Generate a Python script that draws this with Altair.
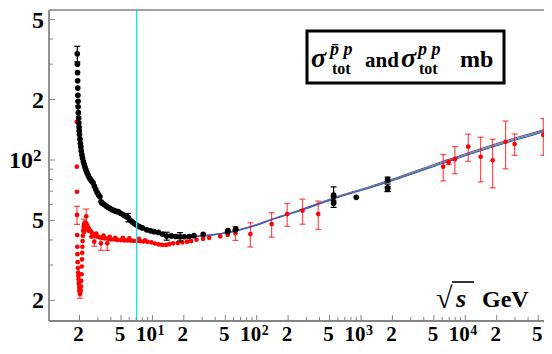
import altair as alt
import pandas as pd

# ---------------- data ----------------
# antiproton-proton total cross section (black)
pbar_x = [1.905, 1.91, 1.915, 1.92, 1.925, 1.93, 1.935, 1.94, 1.95, 1.96, 1.97, 1.98, 1.99, 2.0,
          2.02, 2.04, 2.06, 2.08, 2.11, 2.14, 2.18, 2.22, 2.26, 2.31, 2.36, 2.42, 2.48, 2.55,
          2.62, 2.70, 2.78, 2.86, 2.95, 3.05, 3.14, 3.22, 3.3, 3.45, 3.6, 3.75, 3.91, 4.1, 4.3,
          4.5, 4.7, 4.95, 5.2, 5.45, 5.66, 5.86, 6.1, 6.4, 6.75, 7.06, 7.5, 8.0, 8.8, 9.6, 10.4,
          11.4, 12.5, 13.7, 15.2, 16.8, 18.4, 20.2, 22.5, 25, 30.7, 52.6, 53, 62.3, 63,
          546, 546, 546, 546, 900, 1800, 1800, 1800]
pbar_y = [338, 300, 272, 248, 228, 210, 196, 184, 172, 162, 153, 146, 140, 134,
          127, 121, 116, 111, 106, 102, 98, 95, 92, 89, 86.5, 84, 81.5, 80,
          78.5, 77, 74, 71.5, 69, 67, 65.6, 62, 61, 60, 59, 58.2, 57.4, 56.6, 56,
          55.5, 55.3, 54.3, 53.5, 52.8, 52.2, 51.7, 50.3, 49.2, 48.2, 47.5, 46.6, 45.9, 44.9, 44.4, 44,
          43.6, 42.8, 41.8, 41.9, 41.6, 41.5, 41.5, 41.6, 42, 42.7, 44.0, 44.6, 44.8, 45.4,
          65.8, 66.9, 62.1, 60.9, 65.2, 80.0, 72.8, 71.7]
pbar_err = [30, 0, 0, 0, 0, 0, 0, 0, 0, 0, 0, 0, 0, 0,
            0, 0, 0, 0, 0, 0, 0, 0, 0, 0, 0, 0, 0, 0,
            0, 0, 0, 0, 0, 0, 0, 0, 0, 0, 0, 0, 0, 0, 0,
            0, 0, 0, 0, 0, 0, 2.5, 0, 0, 0, 0, 0, 0, 0, 0, 0,
            0, 0, 1.9, 0, 0, 2.0, 0, 0, 0, 0, 0, 0, 0, 0,
            7.7, 0, 0, 0, 0, 2.2, 3.1, 2.0]

# proton-proton total cross section (red)
pp_x = [1.88, 1.885, 1.89, 1.893, 1.9, 1.905, 1.91, 1.92, 1.93, 1.94, 1.95, 1.96, 1.97, 1.98,
        1.99, 2.0, 2.01, 2.02, 2.035, 2.05, 2.065, 2.08, 2.09, 2.10, 2.11, 2.12, 2.13, 2.14,
        2.155, 2.17, 2.19, 2.21, 2.24, 2.27, 2.3, 2.32, 2.34, 2.38, 2.43, 2.48, 2.55, 2.62,
        2.7, 2.77, 2.8, 2.9, 3.0, 3.1, 3.21, 3.3, 3.5, 3.69, 3.8, 4.0, 4.3, 4.6, 5.0, 5.4,
        5.8, 6.2, 6.6, 7.1, 7.6, 8.2, 9.0, 9.8, 10.6, 11.5, 12.4, 13.5, 14.5, 15.8, 17.5,
        19.4, 21.5, 23.5, 26.5, 30.6, 35, 44.7, 52.8, 62.5,
        2.45, 2.6, 2.9, 3.4, 3.9, 4.4, 5.2, 6.0, 7.4, 8.5, 2.22, 2.28,
        87, 139, 196, 275, 389,
        6140, 6920, 7940, 10670, 14030, 18280, 24340, 29700, 55900]
pp_y = [155, 92.6, 69.5, 53.3, 42.3, 37, 34, 31, 29, 27.5, 26.5, 25.5, 24.5, 24,
        23.2, 22.5, 22, 21.5, 21.8, 22.5, 23.5, 25, 27, 29.5, 32, 34.5, 37, 39.5,
        42, 44.5, 46.5, 47.8, 48.5, 48.8, 48.5, 52.5, 47.8, 47, 46, 45.2, 44.3, 43.5,
        42.8, 39.2, 42.3, 41.8, 41.5, 41.2, 38.5, 41, 40.7, 38.5, 40.5, 40.3, 40.2, 40, 39.9, 39.8,
        39.8, 39.7, 39.6, 39.5, 39.4, 39.3, 39.1, 38.9, 38.4, 38.0, 37.8, 37.8, 38.1, 38.5, 38.6,
        38.9, 39.2, 39.5, 40.1, 40.5, 41.0, 41.7, 42.4, 43.2,
        44.5, 41.5, 43.0, 42.0, 41.5, 41.0, 41.0, 40.7, 40.5, 39.8, 44.0, 46.0,
        42.8, 48.0, 53.8, 55.9, 53.8,
        92.6, 97.4, 101, 116.5, 103.8, 99.7, 123.3, 120.1, 133.2]
pp_err = [0, 0, 0, 5.5, 0, 0, 0, 0, 0, 0, 0, 0, 0, 0,
          0, 0, 0, 1.0, 0, 0, 0, 0, 0, 0, 0, 0, 0, 0,
          0, 0, 0, 3.0, 0, 0, 0, 4.5, 0, 0, 0, 0, 0, 0,
          0, 2.0, 0, 0, 0, 0, 3.0, 0, 0, 3.0, 0, 0, 0, 0, 0, 0,
          0, 0, 0, 0, 0, 0, 0, 0, 0, 0, 0, 0, 0, 0, 0,
          0, 0, 0, 0, 0, 0, 0, 0, 3.4,
          0, 0, 0, 0, 0, 0, 0, 0, 0, 0, 0, 0,
          5.9, 6.7, 7.0, 8.0, 8.7,
          13.9, 2.5, 15.6, 18, 26, 27, 33, 14.6, 27.7]

# fitted curves
curve_x = [15, 20, 30.7, 64, 100, 134, 279, 583, 1217, 2400, 6140, 11070, 23070, 48300, 67600]
curve_a = [41.4, 41.3, 41.9, 44.6, 47.8, 50.4, 57.2, 65.6, 73.8, 83.0, 98.6, 109.3, 123.6, 138.2, 145.6]
curve_b = [41.4, 41.3, 41.9, 44.5, 47.6, 50.2, 56.9, 65.2, 73.2, 82.2, 97.5, 108.0, 122.0, 136.5, 143.9]
curve_c = [41.4, 41.3, 41.9, 44.4, 47.4, 50.0, 56.6, 64.8, 72.6, 81.4, 96.4, 106.7, 120.4, 134.8, 142.2]
curve_names = ["a", "b", "c"]
curve_colors = ["#8040a8", "#40a050", "#4050d0"]

cyan_x = [7.06]

# axis ticks and labels
x_major = [2, 5, 10, 20, 50, 100, 200, 500, 1000, 2000, 5000, 10000, 20000, 50000]
x_minor = [3, 4, 6, 7, 8, 9, 30, 40, 60, 70, 80, 90, 300, 400, 600, 700, 800, 900,
           3000, 4000, 6000, 7000, 8000, 9000, 30000, 40000]
x_label_vals = [2, 5, 20, 50, 200, 500, 2000, 5000, 20000, 50000]
x_label_text = ["2", "5", "2", "5", "2", "5", "2", "5", "2", "5"]
x_decade_vals = [10, 100, 1000, 10000]
x_decade_exp = ["1", "2", "3", "4"]
y_major = [20, 50, 100, 200, 500]
y_minor = [30, 40, 60, 70, 80, 90, 300, 400]
y_label_vals = [20, 50, 200, 500]
y_label_text = ["2", "5", "2", "5"]
y_decade_vals = [100]
y_decade_exp = ["2"]

# ---------------- chart ----------------
W, H = 495, 311
GRAY = "#858585"
FONT = "Liberation Serif"

xscale = alt.Scale(type="log", domain=[1.02, 56830], nice=False)
yscale = alt.Scale(type="log", domain=[15.80, 558], nice=False)
XN = dict(scale=xscale, axis=None)
YN = dict(scale=yscale, axis=None)

rows = []
for name, ys in zip(curve_names, [curve_a, curve_b, curve_c]):
    for xv, yv in zip(curve_x, ys):
        rows.append({"curve": name, "x": xv, "y": yv})
curves_df = pd.DataFrame(rows)

curves = alt.Chart(curves_df).mark_line(strokeWidth=1.1, interpolate="monotone", clip=True).encode(
    x=alt.X("x:Q", **XN),
    y=alt.Y("y:Q", **YN),
    color=alt.Color("curve:N", scale=alt.Scale(domain=curve_names, range=curve_colors), legend=None),
    detail="curve:N",
)


def points_layers(xs, ys, errs, color, size, err_opacity):
    df = pd.DataFrame({"x": xs, "y": ys, "e": errs})
    edf = df[df["e"] > 0].copy()
    edf["lo"] = edf["y"] - edf["e"]
    edf["hi"] = edf["y"] + edf["e"]
    X = alt.X("x:Q", **XN)
    bars = alt.Chart(edf).mark_rule(color=color, strokeWidth=1.2, opacity=err_opacity).encode(
        x=X, y=alt.Y("lo:Q", **YN), y2="hi:Q")
    cap_lo = alt.Chart(edf).mark_tick(color=color, orient="horizontal", size=6, thickness=1.2,
                                      opacity=err_opacity).encode(x=X, y=alt.Y("lo:Q", **YN))
    cap_hi = alt.Chart(edf).mark_tick(color=color, orient="horizontal", size=6, thickness=1.2,
                                      opacity=err_opacity).encode(x=X, y=alt.Y("hi:Q", **YN))
    pts = alt.Chart(df).mark_circle(color=color, size=size, opacity=1).encode(
        x=X, y=alt.Y("y:Q", **YN))
    return [bars, cap_lo, cap_hi, pts]


red_layers = points_layers(pp_x, pp_y, pp_err, "#ff0000", 22, 0.7)
black_layers = points_layers(pbar_x, pbar_y, pbar_err, "#000000", 32, 1.0)

cyan = alt.Chart(pd.DataFrame({"v": cyan_x})).mark_rule(color="#22e0e0", strokeWidth=1.5).encode(
    x=alt.X("v:Q", **XN))

one = pd.DataFrame({"a": [0]})

# frame
left_line = alt.Chart(one).mark_rule(color=GRAY, strokeWidth=1.8).encode(
    x=alt.value(0), y=alt.value(0), y2=alt.value(H))
bottom_line = alt.Chart(one).mark_rule(color=GRAY, strokeWidth=1.8).encode(
    x=alt.value(0), x2=alt.value(W), y=alt.value(H))
top_line = alt.Chart(one).mark_rule(color=GRAY, strokeWidth=1.6).encode(
    x=alt.value(0), x2=alt.value(W), y=alt.value(0))

# inward ticks
xmaj = alt.Chart(pd.DataFrame({"t": x_major})).mark_rule(color=GRAY, strokeWidth=1).encode(
    x=alt.X("t:Q", **XN), y=alt.value(H), y2=alt.value(H - 6))
xmin = alt.Chart(pd.DataFrame({"t": x_minor})).mark_rule(color=GRAY, strokeWidth=1).encode(
    x=alt.X("t:Q", **XN), y=alt.value(H), y2=alt.value(H - 4))
ymaj = alt.Chart(pd.DataFrame({"t": y_major})).mark_rule(color=GRAY, strokeWidth=1).encode(
    y=alt.Y("t:Q", **YN), x=alt.value(0), x2=alt.value(6))
ymin = alt.Chart(pd.DataFrame({"t": y_minor})).mark_rule(color=GRAY, strokeWidth=1).encode(
    y=alt.Y("t:Q", **YN), x=alt.value(0), x2=alt.value(4))

# tick labels
LBL = dict(font=FONT, fontWeight="bold", color="black", baseline="alphabetic")
XB = 331   # x-label baseline (chart pixels)
xlab = alt.Chart(pd.DataFrame({"t": x_label_vals, "s": x_label_text})).mark_text(
    fontSize=21, align="center", dx=-1, **LBL).encode(
    x=alt.X("t:Q", **XN), y=alt.value(XB), text="s:N")
xdec = alt.Chart(pd.DataFrame({"t": x_decade_vals})).mark_text(
    fontSize=21, align="center", dx=-6, text="10", **LBL).encode(
    x=alt.X("t:Q", **XN), y=alt.value(XB))
xexp = alt.Chart(pd.DataFrame({"t": x_decade_vals, "s": x_decade_exp})).mark_text(
    fontSize=14, align="left", dx=5, **LBL).encode(
    x=alt.X("t:Q", **XN), y=alt.value(XB - 6), text="s:N")
ylab = alt.Chart(pd.DataFrame({"t": y_label_vals, "s": y_label_text})).mark_text(
    fontSize=24, align="right", dy=8, **LBL).encode(
    y=alt.Y("t:Q", **YN), x=alt.value(-5), text="s:N")
ydec = alt.Chart(pd.DataFrame({"t": y_decade_vals})).mark_text(
    fontSize=24, align="right", dy=8, text="10", **LBL).encode(
    y=alt.Y("t:Q", **YN), x=alt.value(-16))
yexp = alt.Chart(pd.DataFrame({"t": y_decade_vals, "s": y_decade_exp})).mark_text(
    fontSize=17, align="left", dy=1, **LBL).encode(
    y=alt.Y("t:Q", **YN), x=alt.value(-16), text="s:N")

box = alt.Chart(one).mark_rect(fill="white", stroke="black", strokeWidth=3).encode(
    x=alt.value(258), x2=alt.value(455), y=alt.value(21), y2=alt.value(73))


def txt(s, x, y, size, weight="bold", style="normal"):
    return alt.Chart(one).mark_text(text=s, font=FONT, fontSize=size, fontWeight=weight,
                                    fontStyle=style, align="left", baseline="alphabetic",
                                    color="black").encode(x=alt.value(x), y=alt.value(y))


texts = [
    txt("σ", 262, 57, 28, "bold", "italic"),
    txt("p\u0304 p", 281, 45, 18, "bold", "italic"),
    txt("tot", 283, 64, 16),
    txt("and", 316, 57, 21),
    txt("σ", 352, 57, 28, "bold", "italic"),
    txt("p p", 369, 45, 18, "bold", "italic"),
    txt("tot", 370, 64, 16),
    txt("mb", 411, 57, 24),
    txt("√", 387, 298, 30, "bold"),
    txt("s", 407, 297, 26, "bold", "italic"),
    txt("GeV", 433, 297, 24),
]
vinculum = alt.Chart(one).mark_rule(color="black", strokeWidth=1.6).encode(
    x=alt.value(403), x2=alt.value(425), y=alt.value(272))

chart = alt.layer(
    curves, *red_layers, *black_layers, cyan, left_line, bottom_line, top_line,
    xmaj, xmin, ymaj, ymin, xlab, xdec, xexp, ylab, ydec, yexp, box, *texts, vinculum
).properties(
    width=W, height=H,
    autosize=alt.AutoSizeParams(type="none"),
    padding={"left": 41, "top": 2, "right": 0, "bottom": 25},
).configure_view(stroke=None)

chart.save("out.html", embed_options={"renderer": "svg", "actions": False})
